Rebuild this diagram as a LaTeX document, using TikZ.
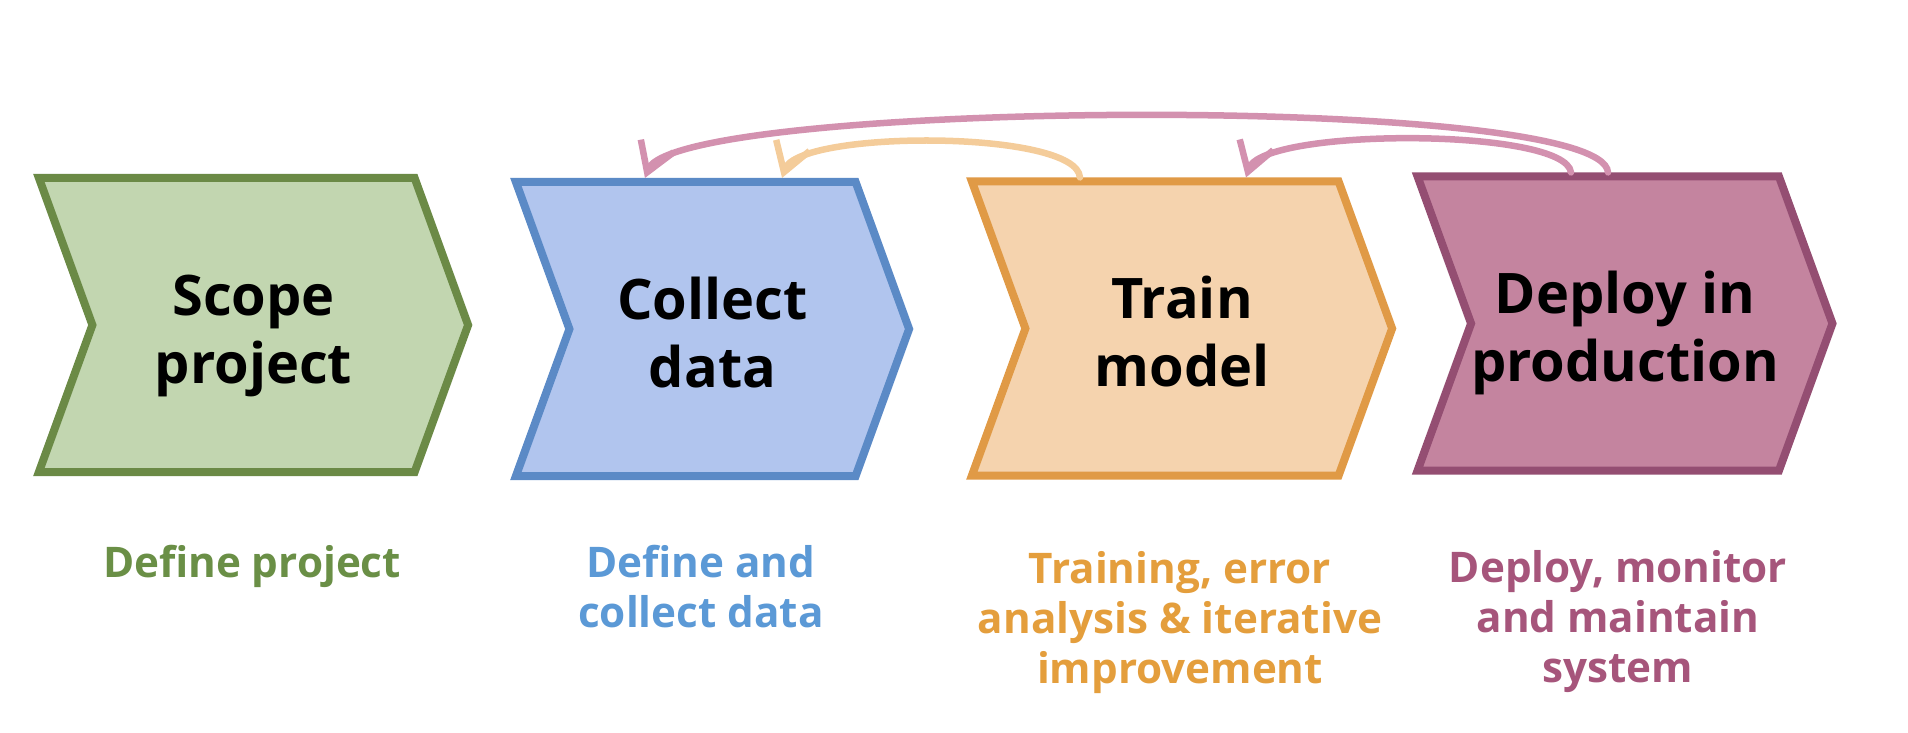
\documentclass[tikz,border=0pt]{standalone}
\usepackage{fontspec}
\setmainfont{Open Sans}
\usetikzlibrary{shapes.symbols,arrows.meta,positioning}

\definecolor{scopefill}{HTML}{C2D6B0}
\definecolor{scopeline}{HTML}{6B8A46}
\definecolor{collectfill}{HTML}{B1C5EE}
\definecolor{collectline}{HTML}{5B8AC6}
\definecolor{trainfill}{HTML}{F5D3AE}
\definecolor{trainline}{HTML}{E09A46}
\definecolor{deployfill}{HTML}{C4849F}
\definecolor{deployline}{HTML}{944E72}
\definecolor{scopenote}{HTML}{6A8F46}
\definecolor{collectnote}{HTML}{5B99D6}
\definecolor{trainnote}{HTML}{E49E3C}
\definecolor{deploynote}{HTML}{A6557B}
\definecolor{loopmauve}{HTML}{D391AF}
\definecolor{looporange}{HTML}{F4CC9A}

\begin{document}
\begin{tikzpicture}
	% Styles
	[
	x=0.01cm, y=-0.01cm,
	stage/.style={signal, signal from=west, signal to=east, signal pointer angle=140, minimum height=2.94cm, inner sep=0pt, line width=0.08cm, align=center, font=\bfseries\fontsize{15.9}{19.3}\selectfont, text height=1.26cm, text depth=0.1cm},
	note/.style={anchor=base, align=center, font=\bfseries\fontsize{12}{14.2}\selectfont},
	loop/.style={line width=0.065cm, line cap=round, -{Straight Barb[length=8pt,width=10pt]}}
	]
	\useasboundingbox (0,0) rectangle (1908,732);

	% Nodes
	\node at (253.5,325)	(scope)		[stage, draw=scopeline, fill=scopefill, minimum width=4.29cm] {Scope\\project};
	\node at (712.5,329)	(collect)	[stage, draw=collectline, fill=collectfill, minimum width=3.93cm] {Collect\\data};
	\node at (1182,328.5)	(train)		[stage, draw=trainline, fill=trainfill, minimum width=4.20cm] {Train\\model};
	\node at (1625,323.5)	(deploy)	[stage, draw=deployline, fill=deployfill, minimum width=4.06cm] {Deploy in\\production};

	\node at (252,577)	(scopenote)	[note, text=scopenote] {Define project};
	\node at (701,627)	(collectnote)	[note, text=collectnote] {Define and\\collect data};
	\node at (1180,683)	(trainnote)	[note, text=trainnote] {Training, error\\analysis \& iterative\\improvement};
	\node at (1618,682)	(deploynote)	[note, text=deploynote] {Deploy, monitor\\and maintain\\system};

	% Connections
	\draw[loop, draw=loopmauve] ([xshift=-0.17cm]deploy.north) .. controls +(-4,-80) and +(30,-78) .. ([xshift=-0.675cm]collect.north);
	\draw[loop, draw=looporange] ([xshift=-1.02cm]train.north) .. controls +(-3,-48) and +(16,-48) .. ([xshift=0.695cm]collect.north);
	\draw[loop, draw=loopmauve] ([xshift=-0.54cm]deploy.north) .. controls +(-5,-45) and +(16,-50) .. ([xshift=0.64cm]train.north);

\end{tikzpicture}
\end{document}
